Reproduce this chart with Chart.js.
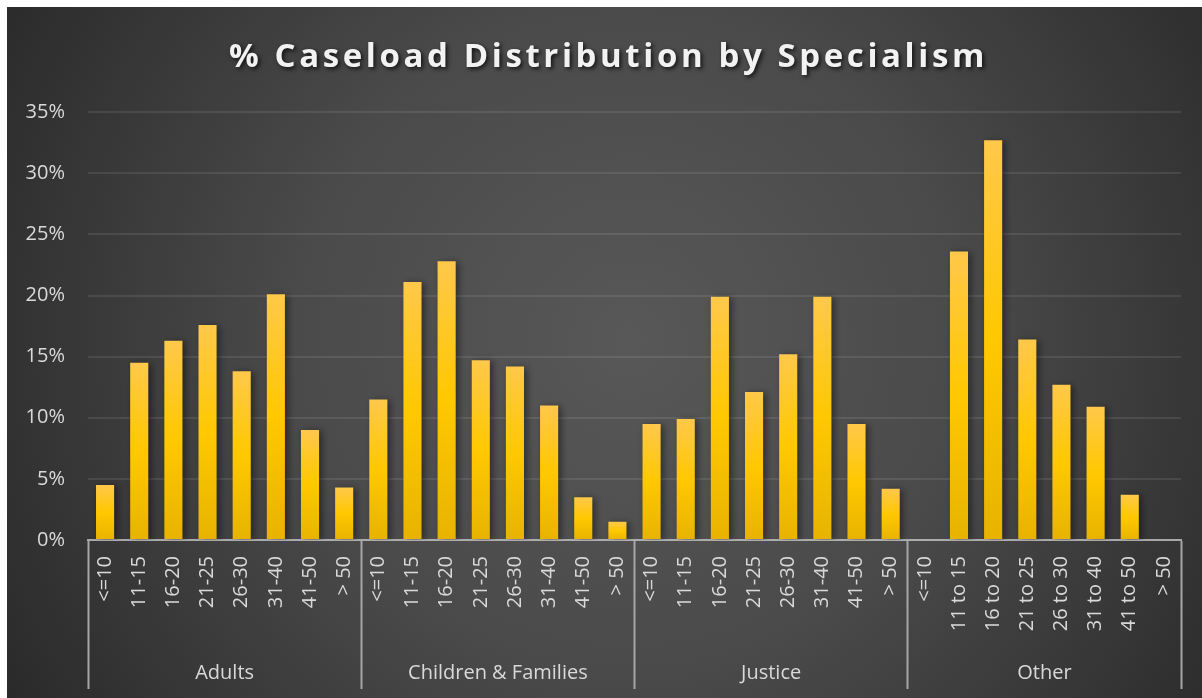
<!DOCTYPE html>
<html>
<head>
<meta charset="utf-8">
<title>% Caseload Distribution by Specialism</title>
<script src="https://cdn.jsdelivr.net/npm/chart.js@4"></script>
<style>
  html, body { margin: 0; padding: 0; background: #fff; }
  #wrap { position: absolute; left: 7px; top: 7px; width: 1195px; height: 691px; }
</style>
</head>
<body>
<div id="wrap"><canvas id="caseloadChart"></canvas></div>
<script>
// categories
const groups = ['Adults', 'Children & Families', 'Justice', 'Other'];
const bands = ['<=10', '11-15', '16-20', '21-25', '26-30', '31-40', '41-50', '> 50'];
const otherBands = ['<=10', '11 to 15', '16 to 20', '21 to 25', '26 to 30', '31 to 40', '41 to 50', '> 50'];

// % of caseload per band
const adults = [4.5, 14.5, 16.3, 17.6, 13.8, 20.1, 9.0, 4.3];
const childrenFamilies = [11.5, 21.1, 22.8, 14.7, 14.2, 11.0, 3.5, 1.5];
const justice = [9.5, 9.9, 19.9, 12.1, 15.2, 19.9, 9.5, 4.2];
const other = [0, 23.6, 32.7, 16.4, 12.7, 10.9, 3.7, 0];

const yTicks = [0, 5, 10, 15, 20, 25, 30, 35];

const labels = [...bands, ...bands, ...bands, ...otherBands];
const values = [...adults, ...childrenFamilies, ...justice, ...other];
const perGroup = bands.length;

const labelColor = '#d9d9d9';
const axisColor = '#a6a6a6';

// dark radial background
const background = {
    id: 'background',
    beforeDraw(chart) {
        const { ctx, width, height } = chart;
        const g = ctx.createRadialGradient(width * 0.52, height * 0.48, 0, width * 0.52, height * 0.48, width * 0.62);
        g.addColorStop(0, '#585858');
        g.addColorStop(0.45, '#4a4a4a');
        g.addColorStop(1, '#282828');
        ctx.save();
        ctx.fillStyle = g;
        ctx.fillRect(0, 0, width, height);
        ctx.restore();
    }
};

// spaced title with drop shadow
const titleStyle = {
    id: 'titleStyle',
    beforeDraw(chart) {
        const tb = chart.titleBlock;
        if (!tb || tb._styled) return;
        const draw = tb.draw.bind(tb);
        tb.draw = function () {
            const c = tb.ctx;
            c.save();
            c.translate(9, 0);
            c.letterSpacing = '3.6px';
            c.shadowColor = 'rgba(0, 0, 0, 0.75)';
            c.shadowOffsetX = 2;
            c.shadowOffsetY = 2;
            c.shadowBlur = 4;
            draw();
            c.restore();
        };
        tb._styled = true;
    }
};

// soft shadow behind the bars
const barShadow = {
    id: 'barShadow',
    beforeDatasetsDraw(chart) {
        const c = chart.ctx;
        c.save();
        c.shadowColor = 'rgba(0, 0, 0, 0.45)';
        c.shadowBlur = 7;
        c.shadowOffsetX = 3;
        c.shadowOffsetY = 1;
    },
    afterDatasetsDraw(chart) {
        chart.ctx.restore();
    }
};

function barFill(context) {
    const chart = context.chart;
    if (!chart.chartArea || context.type !== 'data' || !chart.scales.y) return '#ffc800';
    const y = chart.scales.y;
    const top = y.getPixelForValue(context.raw);
    const base = y.getPixelForValue(0);
    if (!(base - top > 1)) return '#ffc800';
    const g = chart.ctx.createLinearGradient(0, top, 0, base);
    g.addColorStop(0, '#ffc84a');
    g.addColorStop(0.5, '#ffc800');
    g.addColorStop(1, '#e8b300');
    return g;
}

document.addEventListener('DOMContentLoaded', function() {
    Chart.defaults.font.family = "'Open Sans', 'Noto Sans', sans-serif";
    Chart.defaults.color = labelColor;

    const ctx = document.getElementById('caseloadChart').getContext('2d');

    new Chart(ctx, {
        type: 'bar',
        data: {
            labels: labels,
            datasets: [{
                label: '% Caseload',
                data: values,
                backgroundColor: barFill,
                borderWidth: 0,
                barPercentage: 0.53,
                categoryPercentage: 1
            }]
        },
        options: {
            responsive: true,
            maintainAspectRatio: false,
            animation: false,
            layout: {
                padding: { left: 11, right: 21, top: 0, bottom: 12 }
            },
            scales: {
                x: {
                    type: 'category',
                    position: 'bottom',
                    z: 1,
                    offset: true,
                    border: { display: true, color: 'rgba(200, 200, 200, 0.75)', width: 2 },
                    grid: {
                        display: true,
                        offset: true,
                        drawOnChartArea: false,
                        drawTicks: true,
                        tickLength: 149,
                        tickWidth: 2,
                        // only the group boundaries get a divider
                        tickColor: (c) => (c.type !== 'tick' || c.index % perGroup === 0) ? axisColor : 'rgba(0,0,0,0)'
                    },
                    ticks: {
                        autoSkip: false,
                        minRotation: 90,
                        maxRotation: 90,
                        padding: -133,
                        color: labelColor,
                        font: { size: 20 }
                    },
                    afterFit(scale) { scale.height = 100; }
                },
                x2: {
                    type: 'category',
                    labels: groups,
                    position: 'bottom',
                    offset: true,
                    border: { display: false },
                    grid: { display: false, drawTicks: false },
                    ticks: {
                        padding: 21,
                        color: labelColor,
                        font: { size: 20 }
                    },
                    afterFit(scale) { scale.height = 46; }
                },
                y: {
                    min: 0,
                    max: 35,
                    border: { display: false },
                    grid: {
                        color: 'rgba(255, 255, 255, 0.09)',
                        lineWidth: 2,
                        drawTicks: false
                    },
                    afterBuildTicks(scale) {
                        scale.ticks = yTicks.map(v => ({ value: v }));
                    },
                    ticks: {
                        padding: 23,
                        color: labelColor,
                        font: { size: 20 },
                        callback: (v) => v + '%'
                    },
                    afterFit(scale) { scale.width = 70; }
                }
            },
            plugins: {
                legend: { display: false },
                tooltip: { enabled: false },
                title: {
                    display: true,
                    text: '% Caseload Distribution by Specialism',
                    color: '#f2f2f2',
                    font: { size: 33, weight: 'bold' },
                    padding: { top: 31, bottom: 34.6 }
                }
            }
        },
        plugins: [background, titleStyle, barShadow]
    });
});
</script>
</body>
</html>
